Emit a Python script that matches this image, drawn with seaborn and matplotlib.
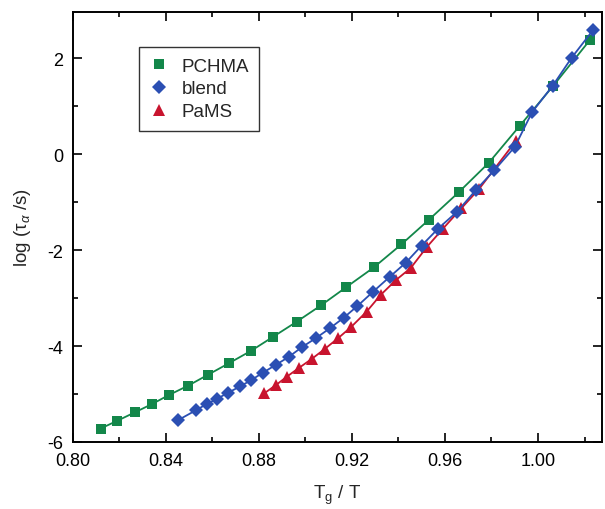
import matplotlib
matplotlib.use("Agg")
import matplotlib.pyplot as plt
import seaborn as sns
import pandas as pd
from matplotlib.lines import Line2D
from matplotlib.ticker import MultipleLocator

# ---- data ----
pchma_x = [0.8120, 0.8192, 0.8268, 0.8341, 0.8414, 0.8497, 0.8583, 0.8671, 0.8768,
           0.8863, 0.8963, 0.9069, 0.9176, 0.9294, 0.9413, 0.9532, 0.9659, 0.9788,
           0.9921, 1.0064, 1.0222]
pchma_y = [-5.719, -5.557, -5.380, -5.209, -5.020, -4.824, -4.595, -4.360, -4.096,
           -3.803, -3.493, -3.147, -2.773, -2.363, -1.881, -1.365, -0.797, -0.185,
           0.585, 1.413, 2.369]

blend_x = [0.8454, 0.8530, 0.8576, 0.8621, 0.8669, 0.8719, 0.8768, 0.8817, 0.8872,
           0.8928, 0.8986, 0.9044, 0.9105, 0.9165, 0.9223, 0.9291, 0.9363, 0.9432,
           0.9500, 0.9571, 0.9653, 0.9732, 0.9812, 0.9900, 0.9975, 1.0063, 1.0145,
           1.0238]
blend_y = [-5.542, -5.338, -5.209, -5.099, -4.970, -4.843, -4.708, -4.558, -4.396,
           -4.229, -4.021, -3.840, -3.632, -3.410, -3.170, -2.869, -2.557, -2.263,
           -1.906, -1.552, -1.198, -0.755, -0.339, 0.148, 0.876, 1.423, 2.010, 2.592]

pams_x = [0.8824, 0.8875, 0.8921, 0.8972, 0.9028, 0.9084, 0.9140, 0.9196, 0.9263,
          0.9323, 0.9389, 0.9453, 0.9523, 0.9592, 0.9671, 0.9747, 0.9904]
pams_y = [-4.984, -4.808, -4.637, -4.458, -4.267, -4.059, -3.840, -3.607, -3.285,
          -2.939, -2.627, -2.374, -1.933, -1.552, -1.128, -0.726, 0.268]

series_names = ["PCHMA", "blend", "PaMS"]
x_ticks = [0.80, 0.84, 0.88, 0.92, 0.96, 1.00]
y_ticks = [-6, -4, -2, 0, 2]

colors = {"PCHMA": "#13874a", "blend": "#2b4fb3", "PaMS": "#c8142e"}
markers = {"PCHMA": "s", "blend": "D", "PaMS": "^"}
msizes = {"PCHMA": 7.0, "blend": 6.8, "PaMS": 8.6}

sns.set_theme(style="ticks")
plt.rcParams["font.family"] = ["Liberation Sans", "DejaVu Sans"]
plt.rcParams["mathtext.fontset"] = "custom"
plt.rcParams["mathtext.rm"] = "Liberation Sans"
plt.rcParams["mathtext.it"] = "Liberation Sans:italic"

fig = plt.figure(figsize=(6.05, 5.10), dpi=100)
ax = fig.add_axes([0.1202, 0.1314, 0.8748, 0.8431])

data = {
    "PCHMA": (pchma_x, pchma_y),
    "blend": (blend_x, blend_y),
    "PaMS": (pams_x, pams_y),
}
for name in ["PCHMA", "PaMS", "blend"]:
    xs, ys = data[name]
    df = pd.DataFrame({"x": xs, "y": ys})
    sns.lineplot(data=df, x="x", y="y", ax=ax, sort=False, color=colors[name],
                 marker=markers[name], markersize=msizes[name], markeredgewidth=0,
                 linewidth=1.3, estimator=None)

ax.set_xlim(0.80, 1.0275)
ax.set_ylim(-6, 2.96)
ax.set_xticks(x_ticks)
ax.set_xticklabels([f"{t:.2f}" for t in x_ticks])
ax.set_yticks(y_ticks)
ax.set_yticklabels([str(t) for t in y_ticks])
ax.xaxis.set_minor_locator(MultipleLocator(0.02))
ax.yaxis.set_minor_locator(MultipleLocator(1))
ax.tick_params(which="both", direction="in", top=True, right=True,
               labelsize=13, width=1.2, colors="black", pad=7)
ax.tick_params(which="major", length=6.5)
ax.tick_params(which="minor", length=3.5)
for sp in ax.spines.values():
    sp.set_linewidth(1.4)
    sp.set_color("black")

ax.set_xlabel(r"T$_{\mathrm{g}}$ / T", fontsize=13.5, labelpad=10)
ax.set_ylabel(r"log (τ$_{\alpha}$ /s)", fontsize=13.5, labelpad=10)

handles = [Line2D([], [], linestyle="none", marker=markers[n], color=colors[n],
                  markersize=msizes[n] + 0.5, markeredgewidth=0) for n in series_names]
leg = ax.legend(handles, series_names, loc="upper left",
                bbox_to_anchor=(0.126, 0.918), frameon=True, fancybox=False,
                fontsize=13.5, handlelength=1.0, handletextpad=0.7,
                labelspacing=0.3, borderpad=0.55, borderaxespad=0)
leg.get_frame().set_edgecolor("black")
leg.get_frame().set_linewidth(1.0)

fig.savefig("out.png", dpi=100)
